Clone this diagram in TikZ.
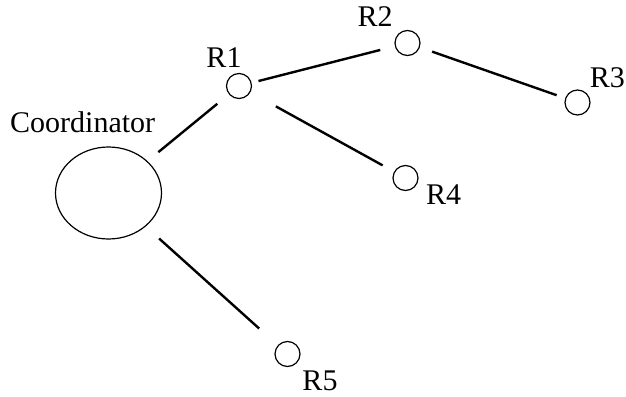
\documentclass[tikz,border=0pt]{standalone}
\usepackage{fontspec}
\setmainfont{Liberation Serif}
\usetikzlibrary{shapes.geometric}
\begin{document}
\begin{tikzpicture}[x=1pt, y=-1pt, every node/.style={font=\fontsize{30}{31}\selectfont},
  router/.style={draw,circle,line width=1.2pt,minimum size=25pt,inner sep=0pt},
  lbl/.style={inner sep=0pt,anchor=base},
  link/.style={line width=2.4pt}]
\useasboundingbox (0,0) rectangle (626,396);
% coordinator
\node[draw,ellipse,line width=1.2pt,minimum width=106pt,minimum height=92pt,inner sep=0pt] (coord) at (108.5,193) {};
\node[lbl,anchor=base west] (coordlab) at (10,132) {Coordinator};
% replicas
\node[router] (r1) at (239,86) {};
\node[router] (r2) at (407.5,43) {};
\node[router] (r3) at (577.5,102.5) {};
\node[router] (r4) at (405.5,178) {};
\node[router] (r5) at (287.5,354) {};
\node[lbl] (r1lab) at (224,67) {R1};
\node[lbl] (r2lab) at (375,27) {R2};
\node[lbl,anchor=base east] (r3lab) at (625,88) {R3};
\node[lbl] (r4lab) at (443.5,204) {R4};
\node[lbl] (r5lab) at (320,390) {R5};
% links
\draw[link,shorten <=14pt,shorten >=15pt] (coord) -- (r1);
\draw[link,shorten <=7pt,shorten >=15pt] (r1) -- (r2);
\draw[link,shorten <=13pt,shorten >=9pt] (r2) -- (r3);
\draw[link,shorten <=29pt,shorten >=13pt] (r1) -- (r4);
\draw[link,shorten <=18pt,shorten >=25pt] (coord) -- (r5);
\end{tikzpicture}
\end{document}
